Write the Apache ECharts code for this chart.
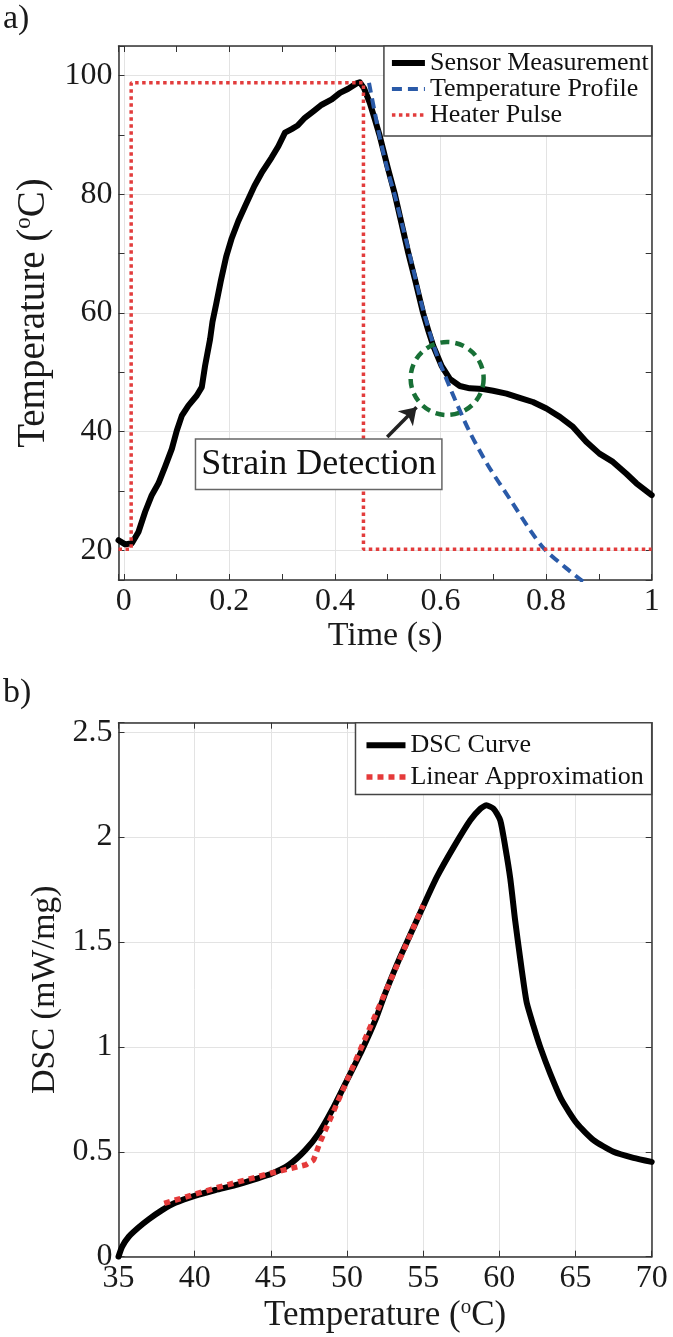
<!DOCTYPE html>
<html><head><meta charset="utf-8">
<script src="https://cdn.jsdelivr.net/npm/echarts@6/dist/echarts.min.js"></script>
<style>html,body{margin:0;padding:0;background:#fff}#c{width:673px;height:1337px}</style>
</head><body><div id="c"></div>
<script>
// ---- Panel a) data ----
const sensorTime = [-0.010, 0.0026, 0.0153, 0.0278, 0.0405, 0.053, 0.0657, 0.0783, 0.091, 0.1005, 0.11, 0.1224, 0.1383, 0.1478, 0.154, 0.1635, 0.168, 0.175, 0.184, 0.194, 0.2045, 0.217, 0.2297, 0.2474, 0.261, 0.280, 0.2928, 0.3054, 0.318, 0.3294, 0.343, 0.359, 0.375, 0.394, 0.4095, 0.4252, 0.441, 0.447, 0.455, 0.466, 0.476, 0.485, 0.5, 0.5135, 0.5387, 0.552, 0.567, 0.577, 0.586, 0.602, 0.6176, 0.6365, 0.6554, 0.6806, 0.6995, 0.7249, 0.75, 0.775, 0.8006, 0.826, 0.851, 0.876, 0.901, 0.9266, 0.952, 0.971, 1.0];
const sensorTemp = [21.7, 21.0, 21.2, 23.1, 26.5, 29.3, 31.3, 34.1, 37.1, 40.2, 42.7, 44.4, 46.1, 47.5, 51.1, 55.6, 58.5, 61.5, 65.5, 69.5, 72.6, 75.5, 78.0, 81.4, 83.6, 86.2, 88.1, 90.4, 91.0, 91.6, 92.9, 94.0, 95.1, 96.0, 97.1, 97.8, 98.7, 98.9, 97.9, 95.4, 92.5, 89.8, 84.5, 80.0, 70.2, 65.5, 60.0, 57.0, 54.5, 51.1, 48.9, 47.7, 47.3, 47.2, 46.9, 46.4, 45.7, 45.0, 43.9, 42.5, 40.8, 38.3, 36.3, 34.9, 32.9, 31.3, 29.3];
const profileTime = [0.4645, 0.475, 0.485, 0.5, 0.5135, 0.527, 0.54, 0.554, 0.568, 0.589, 0.602, 0.627, 0.655, 0.69, 0.731, 0.772, 0.797, 0.838, 0.862, 0.875];
const profileTemp = [98.8, 94.0, 89.6, 84.0, 79.8, 75.0, 70.4, 65.2, 60.2, 54.0, 50.9, 45.5, 40.0, 34.3, 28.7, 23.1, 20.2, 17.0, 15.3, 14.4];
const pulseTime = [-0.01, 0.014, 0.014, 0.454, 0.454, 1.0];
const pulseTemp = [20.2, 20.2, 98.8, 98.8, 20.2, 20.2];
const strainCircle = [0.6125, 48.96];
const strainLabelPos = [0.3692, 34.5];
const strainArrow = [[0.499, 39.1], [0.5546, 44.1]];
const timeTicks = [0, 0.2, 0.4, 0.6, 0.8, 1];
const tempTicks = [20, 40, 60, 80, 100];

// ---- Panel b) data ----
const dscTemp = [35.0, 35.24, 35.67, 36.33, 36.98, 37.86, 38.73, 40.0, 41.36, 42.67, 43.98, 45.0, 46.17, 47.26, 48.14, 49.02, 50.0, 50.98, 51.86, 52.5, 53.5, 55.03, 55.9, 57.0, 58.09, 58.75, 59.14, 59.62, 60.06, 60.39, 60.72, 61.04, 61.37, 61.6, 61.8, 62.24, 62.68, 63.34, 64.1, 65.09, 66.18, 67.49, 68.8, 70.0];
const dscValue = [0.0, 0.048, 0.095, 0.14, 0.178, 0.222, 0.257, 0.29, 0.318, 0.341, 0.37, 0.394, 0.437, 0.508, 0.588, 0.699, 0.841, 0.984, 1.127, 1.254, 1.43, 1.675, 1.81, 1.952, 2.08, 2.135, 2.151, 2.135, 2.08, 1.952, 1.80, 1.60, 1.42, 1.30, 1.21, 1.10, 1.0, 0.873, 0.746, 0.635, 0.556, 0.5, 0.471, 0.452];
const approxTemp = [38.0, 41.5, 45.0, 47.3, 47.8, 48.2, 55.0];
const approxValue = [0.254, 0.33, 0.398, 0.438, 0.46, 0.54, 1.675];
const dscXTicks = [35, 40, 45, 50, 55, 60, 65, 70];
const dscYTicks = [0, 0.5, 1, 1.5, 2, 2.5];

const FONT = 'Liberation Serif';
const TXT = '#1a1a1a';
const AX = '#333';
const zip = (a, b) => a.map((v, i) => [v, b[i]]);
const fmt = (ticks) => (v) => ticks.some(t => Math.abs(t - v) < 1e-9) ? String(v) : '';

function axis(o) {
  const base = {
    type: 'value',
    axisLine: { show: true, onZero: false, lineStyle: { color: AX, width: 1.5 } },
    axisTick: { show: true, inside: true, length: 6, lineStyle: { color: AX, width: 1 } },
    splitLine: { show: false },
    axisLabel: { show: false },
  };
  return Object.assign(base, o);
}
const labelStyle = (ticks) => ({ show: true, fontSize: 32, color: TXT, fontFamily: FONT, margin: 6, formatter: fmt(ticks) });
const grid1 = '#e3e3e3';
const minor = { show: true, splitNumber: 2, length: 6, lineStyle: { color: AX, width: 1 } };
const richName = (pre, post, size) => ({
  name: '{n|' + pre + '}{s|o}{n|' + post + '}',
  nameTextStyle: { rich: {
    n: { fontSize: size, fontFamily: FONT, color: TXT, lineHeight: size + 4 },
    s: { fontSize: Math.round(size * 0.6), fontFamily: FONT, color: TXT, verticalAlign: 'top', lineHeight: Math.round(size * 0.65) }
  } }
});
const legendItemStyle = { opacity: 0 };
const legendLineStyle = { width: 'inherit', type: 'inherit', color: 'inherit', cap: 'butt' };

const chart = echarts.init(document.getElementById('c'), null, { renderer: 'canvas' });
chart.setOption({
  animation: false,
  backgroundColor: '#fff',
  textStyle: { fontFamily: FONT },
  title: [
    { text: 'a)', left: 3, top: 2, padding: 0, textStyle: { fontSize: 34, fontWeight: 'normal', fontFamily: FONT, color: TXT } },
    { text: 'b)', left: 3, top: 676, padding: 0, textStyle: { fontSize: 34, fontWeight: 'normal', fontFamily: FONT, color: TXT } }
  ],
  grid: [
    { left: 118.5, right: 21.3, top: 46, height: 534 },
    { left: 118.5, right: 21.3, top: 722.7, height: 534 }
  ],
  legend: [
    {
      data: ['Sensor Measurement', 'Temperature Profile', 'Heater Pulse'],
      orient: 'vertical', right: 21.3, top: 46, selectedMode: false,
      padding: [4, 3, 8, 5], itemGap: 0, itemWidth: 33, itemHeight: 14,
      itemStyle: legendItemStyle, lineStyle: legendLineStyle,
      backgroundColor: '#fff', borderColor: '#444', borderWidth: 1.5, borderRadius: 0,
      textStyle: { fontSize: 26, fontFamily: FONT, color: '#111', lineHeight: 26 }
    },
    {
      data: ['DSC Curve', 'Linear Approximation'],
      orient: 'vertical', right: 21.3, top: 722.7, selectedMode: false,
      padding: [9, 8, 4, 8], itemGap: 4.7, itemWidth: 39, itemHeight: 14,
      itemStyle: legendItemStyle, lineStyle: legendLineStyle,
      backgroundColor: '#fff', borderColor: '#444', borderWidth: 1.5, borderRadius: 0,
      textStyle: { fontSize: 26, fontFamily: FONT, color: '#111', lineHeight: 27 }
    }
  ],
  xAxis: [
    axis({ gridIndex: 0, position: 'bottom', min: -0.01, max: 1, splitNumber: 5, minorTick: minor,
      splitLine: { show: true, lineStyle: { color: grid1, width: 1 } },
      axisLabel: labelStyle(timeTicks),
      name: 'Time (s)', nameLocation: 'middle', nameGap: 35,
      nameTextStyle: { fontSize: 34, fontFamily: FONT, color: TXT } }),
    axis({ gridIndex: 0, position: 'top', min: -0.01, max: 1, splitNumber: 5, minorTick: minor }),
    axis({ gridIndex: 1, position: 'bottom', min: 35, max: 70, interval: 5,
      splitLine: { show: true, lineStyle: { color: grid1, width: 1 } },
      axisLabel: labelStyle(dscXTicks),
      nameLocation: 'middle', nameGap: 40, ...richName('Temperature (', 'C)', 35) }),
    axis({ gridIndex: 1, position: 'top', min: 35, max: 70, interval: 5 })
  ],
  yAxis: [
    axis({ gridIndex: 0, position: 'left', min: 15, max: 105, splitNumber: 5, minorTick: minor,
      splitLine: { show: true, lineStyle: { color: grid1, width: 1 } },
      axisLabel: labelStyle(tempTicks),
      nameLocation: 'middle', nameGap: 50, nameRotate: 90, ...richName('Temperature (', 'C)', 39) }),
    axis({ gridIndex: 0, position: 'right', min: 15, max: 105, splitNumber: 5, minorTick: minor }),
    axis({ gridIndex: 1, position: 'left', min: 0, max: 2.545, interval: 0.5,
      splitLine: { show: true, lineStyle: { color: grid1, width: 1 } },
      axisLabel: labelStyle(dscYTicks),
      name: 'DSC (mW/mg)', nameLocation: 'middle', nameGap: 50, nameRotate: 90,
      nameTextStyle: { fontSize: 34, fontFamily: FONT, color: TXT } }),
    axis({ gridIndex: 1, position: 'right', min: 0, max: 2.545, interval: 0.5 })
  ],
  series: [
    { name: 'Sensor Measurement', type: 'line', xAxisIndex: 0, yAxisIndex: 0, data: zip(sensorTime, sensorTemp),
      symbol: 'none', color: '#000', lineStyle: { color: '#000', width: 6, cap: 'round', join: 'round' }, z: 2 },
    { name: 'Temperature Profile', type: 'line', xAxisIndex: 0, yAxisIndex: 0, data: zip(profileTime, profileTemp),
      symbol: 'none', smooth: 0.3, color: '#2a5aa8', lineStyle: { color: '#2a5aa8', width: 4, type: [10, 6] }, z: 3 },
    { name: 'Heater Pulse', type: 'line', xAxisIndex: 0, yAxisIndex: 0, data: zip(pulseTime, pulseTemp),
      symbol: 'none', color: '#e23c3c', lineStyle: { color: '#e23c3c', width: 3.5, type: [3.5, 3.5] }, z: 4 },
    { name: 'strain-circle', type: 'scatter', xAxisIndex: 0, yAxisIndex: 0, data: [strainCircle],
      symbol: 'circle', symbolSize: 73, silent: true,
      itemStyle: { opacity: 1, color: 'rgba(0,0,0,0)', borderColor: '#187036', borderWidth: 4.5, borderType: [9, 6] }, z: 5 },
    { name: 'strain-label', type: 'scatter', xAxisIndex: 0, yAxisIndex: 0, data: [strainLabelPos],
      symbolSize: 1, silent: true, itemStyle: { opacity: 1, color: 'rgba(0,0,0,0)' }, z: 6,
      label: { show: true, position: 'inside', formatter: 'Strain Detection', fontSize: 36, fontFamily: FONT, color: '#111',
        textBorderWidth: 0, backgroundColor: '#fff', borderColor: '#666', borderWidth: 1.5, padding: [4, 5, 3, 5], lineHeight: 42 },
      markLine: { silent: true, symbol: ['none', 'arrow'], symbolSize: 16, label: { show: false },
        lineStyle: { color: '#222', width: 3.5, type: 'solid' },
        data: [[{ coord: strainArrow[0] }, { coord: strainArrow[1] }]] } },
    { name: 'DSC Curve', type: 'line', xAxisIndex: 2, yAxisIndex: 2, data: zip(dscTemp, dscValue),
      symbol: 'none', smooth: 0.2, color: '#000', lineStyle: { color: '#000', width: 6, cap: 'round', join: 'round' }, z: 2 },
    { name: 'Linear Approximation', type: 'line', xAxisIndex: 2, yAxisIndex: 2, data: zip(approxTemp, approxValue),
      symbol: 'none', color: '#e53a3a', lineStyle: { color: '#e53a3a', width: 5.5, type: [6, 5], cap: 'butt' }, z: 3 }
  ]
});
</script></body></html>
